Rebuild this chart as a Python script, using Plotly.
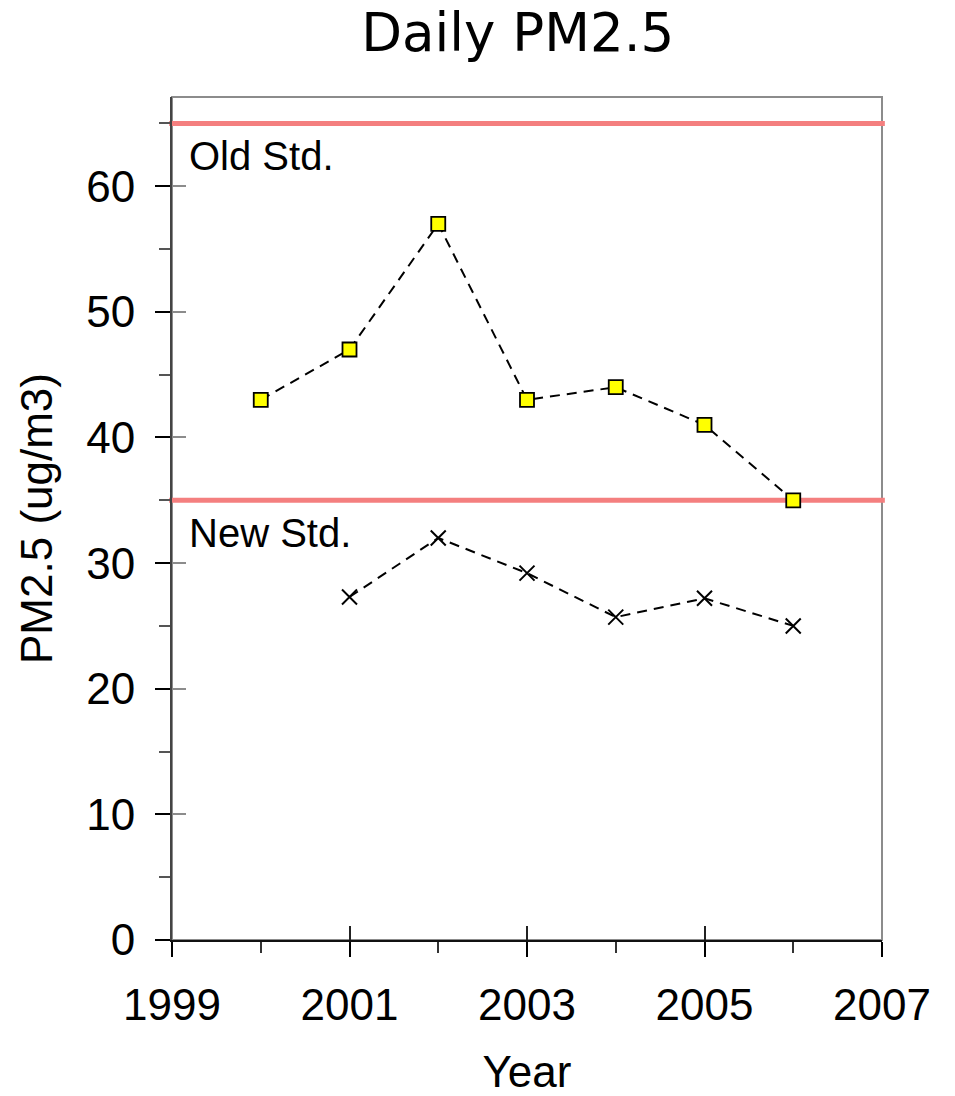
import plotly.graph_objects as go

years_max = [2000, 2001, 2002, 2003, 2004, 2005, 2006]
pm_max = [43, 47, 57, 43, 44, 41, 35]

years_avg = [2001, 2002, 2003, 2004, 2005, 2006]
pm_avg = [27.3, 32.0, 29.2, 25.7, 27.2, 25.0]

std_values = [65, 35]
std_labels = ["Old Std.", "New Std."]

x_ticks = [1999, 2001, 2003, 2005, 2007]
y_ticks = [0, 10, 20, 30, 40, 50, 60]

FONT = "Liberation Sans, Arial, sans-serif"

fig = go.Figure()

fig.add_trace(go.Scatter(
    x=years_max, y=pm_max, mode="lines+markers",
    line=dict(color="black", width=2, dash="10px,7px"),
    marker=dict(symbol="square", size=14, color="#ffff00",
                line=dict(color="black", width=1.8)),
    showlegend=False, cliponaxis=False,
))
fig.add_trace(go.Scatter(
    x=years_avg, y=pm_avg, mode="lines+markers",
    line=dict(color="black", width=2, dash="10px,7px"),
    marker=dict(symbol="x-thin", size=15, color="black",
                line=dict(color="black", width=2)),
    showlegend=False, cliponaxis=False,
))
# transparent copies that activate the inside-tick overlay axes
fig.add_trace(go.Scatter(x=years_max, y=pm_max, xaxis="x2", yaxis="y", mode="markers",
                         marker=dict(opacity=0), showlegend=False, hoverinfo="skip"))
fig.add_trace(go.Scatter(x=years_max, y=pm_max, xaxis="x", yaxis="y2", mode="markers",
                         marker=dict(opacity=0), showlegend=False, hoverinfo="skip"))

# plot frame (gray top/right)
fig.add_shape(type="rect", xref="paper", yref="paper", x0=0, x1=1, y0=0, y1=1,
              line=dict(color="#8c8c8c", width=2), layer="below")

for v, lab in zip(std_values, std_labels):
    fig.add_shape(type="line", xref="paper", yref="y", x0=-0.004, x1=1.004,
                  y0=v, y1=v, line=dict(color="#f47f7f", width=5), layer="below")
    fig.add_annotation(text=lab, xref="paper", yref="y", x=0.021, y=v,
                       xanchor="left", yanchor="middle", yshift=-33,
                       showarrow=False, font=dict(family=FONT, size=40, color="black"))

xr = [1999, 2007]
yr = [0, 67.1]

fig.update_layout(
    width=947, height=1088,
    margin=dict(l=164, r=73, t=89, b=156, autoexpand=False),
    plot_bgcolor="white", paper_bgcolor="white",
    title=dict(text="Daily PM2.5", x=0.487, xref="paper", y=0.978, yref="container",
               xanchor="center", yanchor="middle",
               font=dict(family="DejaVu Sans, Verdana, sans-serif", size=53, color="black")),
    xaxis=dict(range=xr, tickvals=x_ticks, ticktext=[str(t) for t in x_ticks],
               ticks="outside", ticklen=15, tickwidth=2, tickcolor="black",
               minor=dict(ticks="outside", ticklen=11, tickwidth=1.5, dtick=1, tickcolor="#333"),
               showline=True, linecolor="#111", linewidth=2, showgrid=False, zeroline=False,
               automargin=False,
               tickfont=dict(family=FONT, size=44, color="black"), ticklabelstandoff=10,
               title=dict(text="Year", font=dict(family=FONT, size=44, color="black"), standoff=34)),
    yaxis=dict(range=yr, tickvals=y_ticks, ticktext=[str(t) for t in y_ticks],
               ticks="outside", ticklen=15, tickwidth=2, tickcolor="black",
               minor=dict(ticks="outside", ticklen=11, tickwidth=1.5, dtick=5, tickcolor="#555"),
               showline=True, linecolor="#444", linewidth=2, showgrid=False, zeroline=False,
               automargin=False,
               tickfont=dict(family=FONT, size=44, color="black"), ticklabelstandoff=11,
               title=dict(text="PM2.5 (ug/m3)", font=dict(family=FONT, size=44, color="black"), standoff=20)),
    xaxis2=dict(range=xr, overlaying="x", anchor="y", side="bottom", tickvals=x_ticks,
                ticks="inside", ticklen=14, tickwidth=2, tickcolor="#222", automargin=False,
                showticklabels=False, showline=False, showgrid=False, zeroline=False),
    yaxis2=dict(range=yr, overlaying="y", anchor="x", side="left", tickvals=y_ticks,
                ticks="inside", ticklen=14, tickwidth=2, tickcolor="#8c8c8c", automargin=False,
                showticklabels=False, showline=False, showgrid=False, zeroline=False),
)

fig.write_html("out.html")
